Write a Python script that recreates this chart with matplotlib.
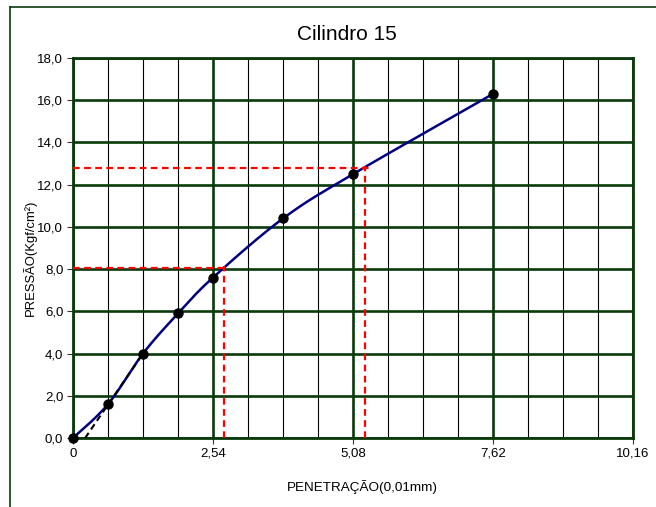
import numpy as np
import matplotlib.pyplot as plt
from matplotlib.lines import Line2D

plt.rcParams['font.family'] = ['Liberation Sans', 'DejaVu Sans']

# ensaio de penetração - leituras
penetracao = [0.0, 0.635, 1.27, 1.905, 2.54, 3.81, 5.08, 7.62]
pressao = [0.0, 1.6, 4.0, 5.9, 7.6, 10.4, 12.5, 16.3]

# reta de correção da origem
correcao_x = [0.22, 1.27]
correcao_y = [0.0, 4.0]

# leituras corrigidas (2,54 e 5,08)
ref1_x, ref1_y = 2.74, 8.05
ref2_x, ref2_y = 5.29, 12.77

xticks = [0, 2.54, 5.08, 7.62, 10.16]
xtick_labels = ['0', '2,54', '5,08', '7,62', '10,16']
yticks = [0, 2, 4, 6, 8, 10, 12, 14, 16, 18]
ytick_labels = ['0,0', '2,0', '4,0', '6,0', '8,0', '10,0', '12,0', '14,0', '16,0', '18,0']

VERDE = '#0a3a0a'
W, H = 656, 507


def suaviza(x, y, n=30):
    # spline Catmull-Rom, parecido com a "linha suavizada" do Excel
    p = np.column_stack([x, y])
    p = np.vstack([p[0], p, p[-1]])
    out = []
    t = np.linspace(0, 1, n)[:, None]
    for i in range(1, len(p) - 2):
        p0, p1, p2, p3 = p[i - 1], p[i], p[i + 1], p[i + 2]
        seg = 0.5 * ((2 * p1) + (-p0 + p2) * t
                     + (2 * p0 - 5 * p1 + 4 * p2 - p3) * t ** 2
                     + (-p0 + 3 * p1 - 3 * p2 + p3) * t ** 3)
        out.append(seg)
    out = np.vstack(out)
    return out[:, 0], out[:, 1]


fig = plt.figure(figsize=(6.56, 5.07), dpi=100)
ax = fig.add_axes([73 / W, 69 / H, 560 / W, 380 / H])

# moldura externa do gráfico
fig.add_artist(Line2D([10 / W, 10 / W], [0, 1 - 7 / H], transform=fig.transFigure,
                      color=VERDE, lw=1.2))
fig.add_artist(Line2D([10 / W, 1], [1 - 7 / H, 1 - 7 / H], transform=fig.transFigure,
                      color=VERDE, lw=1.2))

ax.set_xlim(0, 10.16)
ax.set_ylim(0, 18)

# grade: secundária preta a cada 0,635, principal verde
ax.set_xticks(xticks)
ax.set_xticklabels(xtick_labels)
ax.set_xticks(np.arange(0, 10.17, 0.635), minor=True)
ax.set_yticks(yticks)
ax.set_yticklabels(ytick_labels)
ax.grid(which='minor', axis='x', color='black', lw=0.8)
ax.grid(which='major', color=VERDE, lw=1.9)
ax.set_axisbelow(True)
ax.tick_params(which='minor', length=0)
ax.tick_params(which='major', length=4, width=0.8, color='#333333', labelsize=9.5, pad=3)
for s in ax.spines.values():
    s.set_color(VERDE)
    s.set_linewidth(2)

cx, cy = suaviza(penetracao, pressao)
ax.plot(cx, cy, color='#000080', lw=1.8, zorder=3)
ax.plot(correcao_x, correcao_y, color='black', lw=1.5, ls=(0, (3, 2)), zorder=3)
ax.plot(penetracao, pressao, 'o', color='black', ms=6.5, zorder=4, clip_on=False)

# leituras corrigidas
tr = dict(color='#ff0000', lw=1.6, ls=(0, (3, 2)), zorder=3)
ax.plot([0, ref1_x + 0.05], [ref1_y, ref1_y], **tr)
ax.plot([ref1_x, ref1_x], [0, ref1_y + 0.1], **tr)
ax.plot([0, ref2_x + 0.09], [ref2_y, ref2_y], **tr)
ax.plot([ref2_x, ref2_x], [0, ref2_y + 0.1], **tr)

fig.text(347 / W, 1 - 35 / H, 'Cilindro 15', fontsize=15, ha='center', va='center')
fig.text(362 / W, 1 - 487 / H, 'PENETRAÇÃO(0,01mm)', fontsize=9.7, ha='center', va='center')
fig.text(30 / W, 1 - 258 / H, 'PRESSÃO(Kgf/cm²)', fontsize=9.4, ha='center', va='center',
         rotation=90)

fig.savefig('out.png', dpi=100)
